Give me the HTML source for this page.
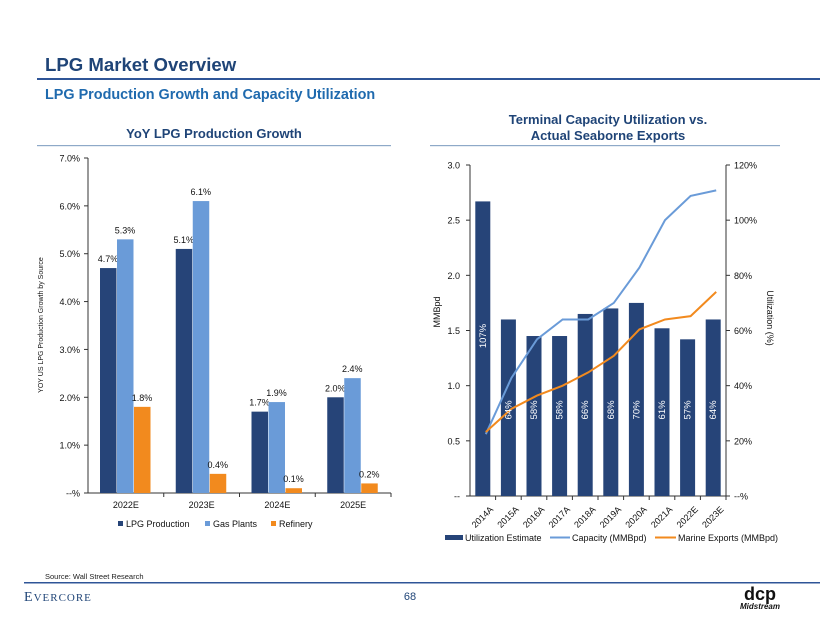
<!DOCTYPE html>
<html><head><meta charset="utf-8"><style>
body{margin:0;background:#fff;font-family:"Liberation Sans",sans-serif}
svg{display:block}
</style></head><body>
<svg id="s" width="820" height="634" xmlns="http://www.w3.org/2000/svg" font-family="Liberation Sans, sans-serif">
<text x="45" y="71" font-size="18.6" font-weight="bold" fill="#1F4477">LPG Market Overview</text>
<rect x="37" y="78" width="783" height="2" fill="#2F5597"/>
<text x="45" y="99" font-size="14.4" font-weight="bold" fill="#1F6AAE">LPG Production Growth and Capacity Utilization</text>
<text x="214" y="138" font-size="13" font-weight="bold" fill="#1F4477" text-anchor="middle">YoY LPG Production Growth</text>
<rect x="37" y="145" width="354" height="1.2" fill="#8EA9C8"/>
<text x="608" y="124" font-size="13" font-weight="bold" fill="#1F4477" text-anchor="middle">Terminal Capacity Utilization vs.</text>
<text x="608" y="140" font-size="13" font-weight="bold" fill="#1F4477" text-anchor="middle">Actual Seaborne Exports</text>
<rect x="430" y="145" width="350" height="1.2" fill="#8EA9C8"/>
<g id="left"></g>
<g id="right"></g>
<text x="45" y="579" font-size="7.5" fill="#222">Source: Wall Street Research</text>
<rect x="24" y="582" width="796" height="1.5" fill="#2F5597"/>
<text x="24" y="601" font-size="14" font-family="Liberation Serif, serif" fill="#1F4477" letter-spacing="1">E<tspan font-size="11">VERCORE</tspan></text>
<text x="410" y="600" font-size="11" fill="#1F4477" text-anchor="middle">68</text>
<text x="760" y="600" font-size="18" font-weight="bold" fill="#111" text-anchor="middle">dcp</text>
<text x="760" y="609" font-size="8" font-weight="bold" font-style="italic" fill="#111" text-anchor="middle">Midstream</text>
</svg>
<script>
const NS="http://www.w3.org/2000/svg";
// Left chart data
const lCats=["2022E","2023E","2024E","2025E"];
const lpg=[4.7,5.1,1.7,2.0];
const gasPlants=[5.3,6.1,1.9,2.4];
const refinery=[1.8,0.4,0.1,0.2];
const lTicks=[0,1,2,3,4,5,6,7];
const lTickLabels=["--%","1.0%","2.0%","3.0%","4.0%","5.0%","6.0%","7.0%"];
// Right chart data
const rCats=["2014A","2015A","2016A","2017A","2018A","2019A","2020A","2021A","2022E","2023E"];
const utilBars=[2.67,1.60,1.45,1.45,1.65,1.70,1.75,1.52,1.42,1.60];
const utilLabels=["107%","64%","58%","58%","66%","68%","70%","61%","57%","64%"];
const capacity=[0.56,1.07,1.42,1.60,1.60,1.75,2.07,2.50,2.72,2.77];
const exportsM=[0.58,0.79,0.91,1.00,1.12,1.27,1.51,1.60,1.63,1.85];
const rTicks=[0,0.5,1,1.5,2,2.5,3];
const rTickLabels=["--","0.5","1.0","1.5","2.0","2.5","3.0"];
const pTicks=[0,20,40,60,80,100,120];
const pTickLabels=["--%","20%","40%","60%","80%","100%","120%"];

function mk(p,tag,a,txt){const e=document.createElementNS(NS,tag);for(const k in a)e.setAttribute(k,a[k]);if(txt!==undefined)e.textContent=txt;p.appendChild(e);return e;}
const NAVY="#264478",LB="#6A9BD8",OR="#F28A1E";

// LEFT
const L=document.getElementById('left');
const lx0=88,lx1=391,ly0=493,ly7=158;
const ly=v=>ly0-(v/7)*(ly0-ly7);
const gw=(lx1-lx0)/lCats.length;
let e=mk(L,'line',{x1:lx0,y1:ly7,x2:lx0,y2:ly0,stroke:"#333","stroke-width":1});

e=mk(L,'line',{x1:lx0,y1:ly0,x2:lx1,y2:ly0,stroke:"#333","stroke-width":1});

lTicks.forEach((t,i)=>{
 mk(L,'line',{x1:lx0-4,x2:lx0,y1:ly(t),y2:ly(t),stroke:"#333"});
 e=mk(L,'text',{x:lx0-8,y:ly(t)+3.5,"font-size":9,"text-anchor":"end",fill:"#111"},lTickLabels[i]);
 
});
e=mk(L,'text',{transform:"translate(43,325) rotate(-90)","font-size":7,"text-anchor":"middle",fill:"#111"},"YOY US LPG Production Growth by Source");

const series=[[lpg,NAVY,'lpg'],[gasPlants,LB,'gas-plants'],[refinery,OR,'refinery']];
lCats.forEach((c,i)=>{
 const gx=lx0+gw*i+12;
 mk(L,'line',{x1:lx0+gw*(i+1),x2:lx0+gw*(i+1),y1:ly0,y2:ly0+4,stroke:"#333"});
 series.forEach((s,j)=>{
  const v=s[0][i],x=gx+j*17;
  e=mk(L,'rect',{x:x,y:ly(v),width:16.5,height:ly0-ly(v),fill:s[1]});
  
  e=mk(L,'text',{x:x+8,y:ly(v)-6,"font-size":9,"text-anchor":"middle",fill:"#111"},v.toFixed(1)+"%");
  
 });
 e=mk(L,'text',{x:lx0+gw*(i+0.5),y:508,"font-size":9,"text-anchor":"middle",fill:"#111"},c);
 
});
[["LPG Production",NAVY,118],["Gas Plants",LB,205],["Refinery",OR,271]].forEach(l=>{
 e=mk(L,'rect',{x:l[2],y:521,width:5,height:5,fill:l[1]});
 
 e=mk(L,'text',{x:l[2]+8,y:527,"font-size":9,fill:"#111"},l[0]);
 
});

// RIGHT
const R=document.getElementById('right');
const rx0=470,rx1=726,ry0=496,ryT=165;
const ry=v=>ry0-(v/3)*(ry0-ryT);
const py=v=>ry0-(v/120)*(ry0-ryT);
const bw=(rx1-rx0)/rCats.length;
const bx=i=>rx0+bw*(i+0.5);
e=mk(R,'line',{x1:rx0,y1:ryT,x2:rx0,y2:ry0,stroke:"#333"});

e=mk(R,'line',{x1:rx1,y1:ryT,x2:rx1,y2:ry0,stroke:"#333"});

e=mk(R,'line',{x1:rx0,y1:ry0,x2:rx1,y2:ry0,stroke:"#333"});

rTicks.forEach((t,i)=>{
 mk(R,'line',{x1:rx0-4,x2:rx0,y1:ry(t),y2:ry(t),stroke:"#333"});
 e=mk(R,'text',{x:rx0-10,y:ry(t)+3.5,"font-size":9,"text-anchor":"end",fill:"#111"},rTickLabels[i]);
 
});
pTicks.forEach((t,i)=>{
 mk(R,'line',{x1:rx1,x2:rx1+4,y1:py(t),y2:py(t),stroke:"#333"});
 e=mk(R,'text',{x:rx1+8,y:py(t)+3.5,"font-size":9,fill:"#111"},pTickLabels[i]);
 
});
e=mk(R,'text',{transform:"translate(440,312) rotate(-90)","font-size":9,"text-anchor":"middle",fill:"#111"},"MMBpd");

e=mk(R,'text',{transform:"translate(767,318) rotate(90)","font-size":9,"text-anchor":"middle",fill:"#111"},"Utilization (%)");

rCats.forEach((c,i)=>{
 const v=utilBars[i];
 e=mk(R,'rect',{x:bx(i)-7.5,y:ry(v),width:15,height:ry0-ry(v),fill:NAVY});
 
 mk(R,'line',{x1:rx0+bw*(i+1),x2:rx0+bw*(i+1),y1:ry0,y2:ry0+4,stroke:"#333"});
 e=mk(R,'text',{x:bx(i)+11,y:510,"font-size":9,"text-anchor":"end",fill:"#111",transform:`rotate(-45 ${bx(i)+11} 510)`},c);
 
});
function line(arr,col,name){
 const d=arr.map((v,i)=>(i?'L':'M')+(bx(i)+3)+','+ry(v)).join('');
 e=mk(R,'path',{d:d,fill:"none",stroke:col,"stroke-width":2});
 
}
line(capacity,LB,'capacity-line');
line(exportsM,OR,'marine-exports-line');
rCats.forEach((c,i)=>{
 const x=bx(i)+3,y=i===0?ry(1.45):ry(0.78);
 e=mk(R,'text',{x:x,y:y,"font-size":9.5,"text-anchor":"middle",fill:"#fff",transform:`rotate(-90 ${x} ${y})`},utilLabels[i]);
 
});
e=mk(R,'rect',{x:445,y:535,width:18,height:5,fill:NAVY});

e=mk(R,'text',{x:465,y:541,"font-size":9,fill:"#111"},"Utilization Estimate");

e=mk(R,'line',{x1:550,x2:570,y1:537.5,y2:537.5,stroke:LB,"stroke-width":2});

e=mk(R,'text',{x:572,y:541,"font-size":9,fill:"#111"},"Capacity (MMBpd)");

e=mk(R,'line',{x1:655,x2:676,y1:537.5,y2:537.5,stroke:OR,"stroke-width":2});

e=mk(R,'text',{x:678,y:541,"font-size":9,fill:"#111"},"Marine Exports (MMBpd)");

</script>
</body></html>
